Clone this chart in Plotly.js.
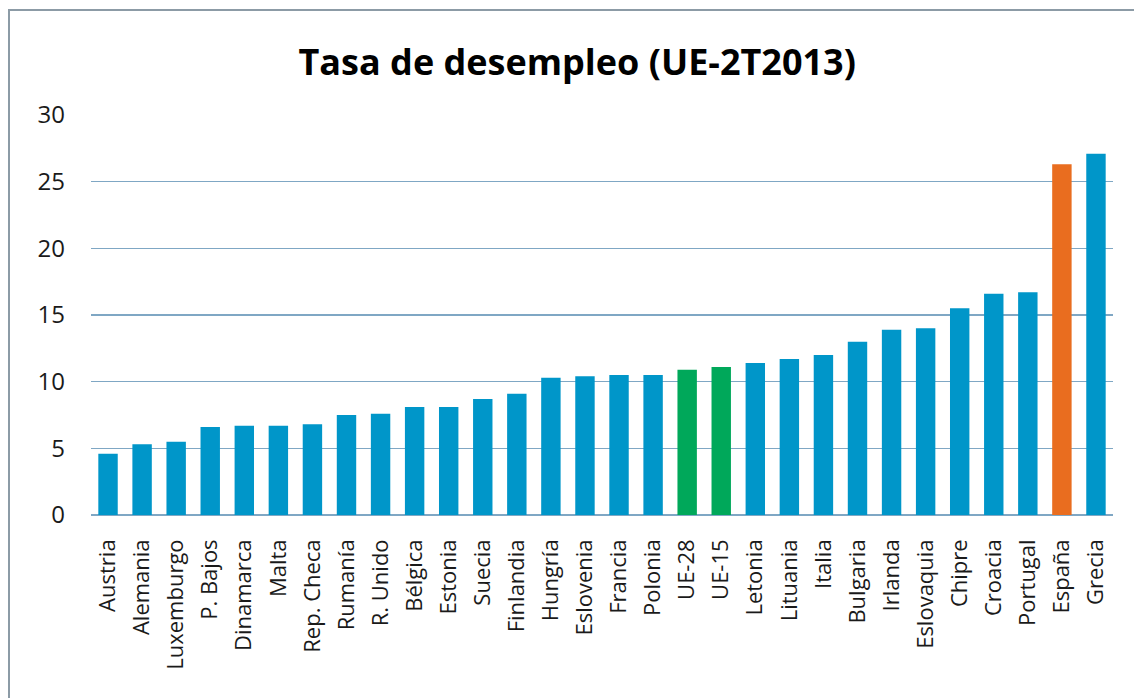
<!DOCTYPE html>
<html>
<head>
<meta charset="utf-8">
<script src="https://cdn.plot.ly/plotly-3.0.1.min.js"></script>
<style>
  html, body { margin: 0; padding: 0; background: #ffffff; }
  #wrap { position: relative; width: 1134px; height: 698px; overflow: hidden; }
  #chart { position: absolute; left: 0; top: 0; width: 1134px; height: 698px; }
  #frame { position: absolute; left: 8px; top: 9px; width: 1140px; height: 700px;
           border-left: 2px solid #8c9ba6; border-top: 2px solid #8c9ba6; pointer-events: none; }
</style>
</head>
<body>
<div id="wrap">
  <div id="chart"></div>
  <div id="frame"></div>
</div>
<script>
const categories = ['Austria','Alemania','Luxemburgo','P. Bajos','Dinamarca','Malta','Rep. Checa','Rumanía','R. Unido','Bélgica','Estonia','Suecia','Finlandia','Hungría','Eslovenia','Francia','Polonia','UE-28','UE-15','Letonia','Lituania','Italia','Bulgaria','Irlanda','Eslovaquia','Chipre','Croacia','Portugal','España','Grecia'];
const values = [4.6, 5.3, 5.5, 6.6, 6.7, 6.7, 6.8, 7.5, 7.6, 8.1, 8.1, 8.7, 9.1, 10.3, 10.4, 10.5, 10.5, 10.9, 11.1, 11.4, 11.7, 12.0, 13.0, 13.9, 14.0, 15.5, 16.6, 16.7, 26.3, 27.1];
const euAggregates = ['UE-28', 'UE-15'];
const spain = ['España'];
const yTicks = [0, 5, 10, 15, 20, 25, 30];

const BLUE = '#0096c9', GREEN = '#00a85a', ORANGE = '#e96d1f';
const colors = categories.map(c => euAggregates.includes(c) ? GREEN : (spain.includes(c) ? ORANGE : BLUE));

const FONT = '"Open Sans", Lato, sans-serif';

const trace = {
  type: 'bar',
  x: categories,
  y: values,
  marker: { color: colors, line: { width: 0 } },
  hoverinfo: 'x+y'
};

const layout = {
  width: 1134,
  height: 698,
  margin: { l: 91, r: 21, t: 115, b: 183 },
  paper_bgcolor: '#ffffff',
  plot_bgcolor: '#ffffff',
  showlegend: false,
  bargap: 0.43,
  title: {
    text: '<b>Tasa de desempleo (UE-2T2013)</b>',
    font: { family: FONT, size: 36, color: '#000000' },
    x: 0.509, xanchor: 'center',
    y: 0.911, yanchor: 'middle'
  },
  xaxis: {
    type: 'category',
    tickangle: -90,
    tickfont: { family: FONT, size: 22, color: '#1a1a1a' },
    showgrid: false,
    showline: false,
    zeroline: false,
    ticks: '',
    ticklabelstandoff: 19,
    automargin: false
  },
  yaxis: {
    range: [0, 30],
    tickvals: yTicks,
    ticktext: yTicks.map(String),
    tickfont: { family: FONT, size: 24, color: '#1a1a1a' },
    showgrid: true,
    gridcolor: '#7fa7c4',
    gridwidth: 1.3,
    zeroline: true,
    zerolinecolor: '#7fa7c4',
    zerolinewidth: 1.3,
    showline: false,
    ticks: '',
    ticklabelstandoff: 25,
    automargin: false
  }
};

Plotly.newPlot('chart', [trace], layout, { displayModeBar: false, staticPlot: true });
</script>
</body>
</html>
